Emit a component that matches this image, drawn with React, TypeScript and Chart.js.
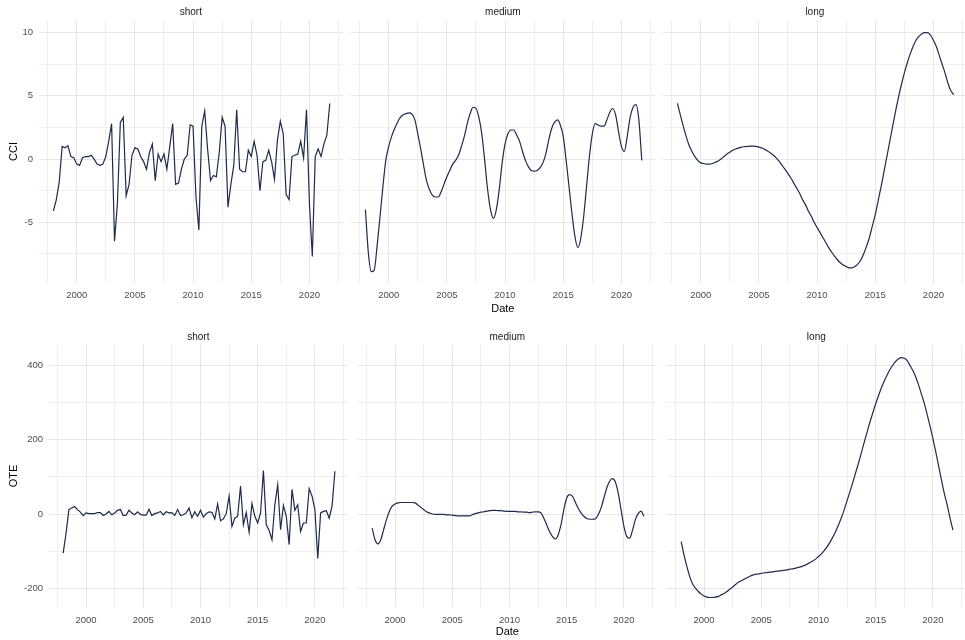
import React, { useEffect, useRef } from 'react';
import { Chart, registerables } from 'chart.js';

Chart.register(...registerables);

// Quarterly time index, 1998 Q1 .. 2021 Q4
const DATES: number[] = Array.from({ length: 96 }, (_, i) => 1998 + i / 4);

const CCI_SHORT = [
  -4.1, -3.2, -1.8, 1.0, 0.9, 1.05, 0.2, 0.1, -0.4, -0.5, 0.1, 0.2,
  0.2, 0.3, 0.0, -0.4, -0.5, -0.4, 0.2, 1.4, 2.8, -6.5, -3.5, 2.9,
  3.3, -2.9, -2.0, 0.3, 0.9, 0.8, 0.2, -0.2, -0.8, 0.5, 1.2, -1.7,
  0.4, -0.2, 0.4, -0.8, 1.0, 2.8, -2.0, -1.9, -0.8, 0.0, 0.3, 2.7,
  2.6, -3.0, -5.6, 2.6, 3.8, 0.8, -1.7, -1.3, -1.4, 0.5, 3.3, 2.6,
  -3.8, -2.0, -0.5, 3.9, -0.8, -1.0, -1.0, 0.7, 0.2, 1.4, 0.3, -2.5,
  -0.2, -0.1, 0.7, -0.2, -1.6, 1.5, 3.0, 2.0, -2.8, -3.2, 0.2, 0.3,
  0.4, 1.4, 0.1, 3.9, -3.5, -7.7, 0.2, 0.8, 0.2, 1.2, 1.9, 4.4,
];

const CCI_MEDIUM = [
  -4.0, -7.4, -8.9, -8.8, -6.9, -4.6, -2.2, -0.1, 1.0, 1.8, 2.4, 2.9,
  3.3, 3.5, 3.6, 3.65, 3.55, 3.1, 2.0, 0.8, -0.5, -1.7, -2.4, -2.85,
  -3.0, -3.0, -2.6, -2.0, -1.4, -0.9, -0.4, -0.1, 0.3, 1.0, 1.8, 2.8,
  3.6, 4.1, 4.0, 3.3, 2.0, -0.1, -2.4, -4.0, -4.7, -4.0, -2.4, -0.3,
  1.2, 2.0, 2.3, 2.3, 1.9, 1.4, 0.6, -0.1, -0.6, -0.9, -0.95, -0.9,
  -0.7, -0.3, 0.4, 1.5, 2.4, 2.9, 3.1, 2.7, 1.8, -0.1, -2.2, -4.3,
  -6.1, -7.0, -6.3, -4.6, -2.2, 0.2, 2.0, 2.8, 2.7, 2.6, 2.6, 3.1,
  3.7, 4.0, 3.5, 2.2, 1.0, 0.6, 1.8, 3.3, 4.1, 4.3, 3.1, -0.1,
];

const CCI_LONG = [
  4.4, 3.5, 2.6, 1.8, 1.1, 0.6, 0.2, -0.1, -0.3, -0.35, -0.4, -0.4,
  -0.35, -0.25, -0.15, 0.0, 0.2, 0.4, 0.55, 0.7, 0.8, 0.87, 0.95, 0.98,
  1.0, 1.02, 1.02, 1.0, 0.95, 0.88, 0.77, 0.64, 0.48, 0.3, 0.08, -0.18,
  -0.5, -0.82, -1.15, -1.5, -1.9, -2.3, -2.7, -3.2, -3.6, -4.1, -4.5, -5.0,
  -5.4, -5.8, -6.2, -6.6, -7.0, -7.35, -7.67, -7.96, -8.2, -8.38, -8.5, -8.6,
  -8.6, -8.5, -8.3, -8.0, -7.5, -6.9, -6.2, -5.3, -4.4, -3.3, -2.2, -1.0,
  0.2, 1.4, 2.6, 3.8, 4.9, 5.9, 6.8, 7.6, 8.3, 8.9, 9.4, 9.7,
  9.9, 10.0, 10.0, 9.8, 9.4, 8.9, 8.2, 7.5, 6.8, 6.0, 5.4, 5.1,
];

const OTE_SHORT = [
  -105, -51, 12, 16, 20, 12, 5, -4, 3, 1, 1, 1,
  4, 4, -4, 0, 7, -2, 3, 10, 12, -4, -3, 10,
  3, -2, 6, -1, -3, -3, 13, -4, 1, 3, 7, -2,
  6, 3, 4, -4, 12, -4, -2, 3, 16, -10, 6, -6,
  10, -8, 1, 6, 5, -13, 27, -18, -13, 1, 48, -33,
  -11, -6, 75, -29, 4, -49, 28, -6, -24, 3, 117, -29,
  -44, -69, 25, 79, -42, 23, -6, -82, 66, 10, 25, -47,
  -24, -24, 68, 48, 12, -119, 3, 7, 9, -11, 21, 115,
];

const OTE_MEDIUM = [
  -38, -69, -80, -69, -42, -15, 7, 21, 27, 30, 31, 31,
  31, 31, 31, 30, 24, 18, 12, 6, 3, 0, -1, -1,
  -1, -1, -2, -2, -3, -4, -5, -5, -5, -5, -5, -2,
  1, 3, 5, 6, 8, 9, 10, 10, 9, 9, 8, 7,
  7, 7, 7, 6, 6, 5, 5, 4, 5, 6, 6, 3,
  -11, -29, -47, -60, -67, -56, -29, 12, 43, 52, 48, 32,
  16, 3, -6, -12, -14, -14, -13, -2, 16, 43, 70, 88,
  95, 86, 57, 12, -33, -60, -65, -44, -15, 1, 8, -6,
];

const OTE_LONG = [
  -74, -110, -141, -168, -188, -199, -208, -215, -220, -223, -224, -224,
  -223, -221, -217, -213, -208, -202, -196, -189, -183, -179, -175, -171,
  -167, -164, -162, -161, -159, -158, -157, -156, -155, -154, -153, -152,
  -151, -150, -148, -147, -145, -143, -141, -138, -135, -130, -126, -121,
  -114, -107, -98, -88, -76, -62, -47, -29, -10, 12, 36, 60,
  85, 111, 137, 165, 193, 220, 247, 272, 296, 318, 339, 357,
  373, 388, 400, 410, 417, 420, 418, 412, 399, 385, 368, 346,
  322, 297, 267, 236, 203, 167, 129, 91, 55, 24, -11, -43,
];

const PANEL_NAMES = ['short', 'medium', 'long'];
const X_TICKS = [1997.5, 2000, 2002.5, 2005, 2007.5, 2010, 2012.5, 2015, 2017.5, 2020, 2022.5];
const X_LABEL_STEP = 5;
const CCI_TICKS = [-7.5, -5, -2.5, 0, 2.5, 5, 7.5, 10];
const CCI_LABEL_STEP = 5;
const OTE_TICKS = [-200, -100, 0, 100, 200, 300, 400];
const OTE_LABEL_STEP = 200;

const X_MIN = 1996.76;
const X_MAX = 2022.86;

const FONT = '"Liberation Sans", Arial, "DejaVu Sans", sans-serif';
const LINE_COLOR = '#1e2b4b';
const GRID_MAJOR = '#e6e6e6';
const GRID_MINOR = '#efefef';

type RowSpec = {
  title: string;
  top: number;
  padTop: number;
  xAxisH: number;
  yAxisW: number;
  yMin: number;
  yMax: number;
  yTicks: number[];
  yLabelStep: number;
  xTickPad: number;
  dateTitlePad: number;
  lefts: number[];
  panelW: number;
  series: number[][];
};

const ROWS: RowSpec[] = [
  {
    title: 'CCI', top: 0, padTop: 20, xAxisH: 37, yAxisW: 39,
    yMin: -9.8, yMax: 11.0, yTicks: CCI_TICKS, yLabelStep: CCI_LABEL_STEP,
    xTickPad: 6.5, dateTitlePad: 4.4, lefts: [0, 351, 663], panelW: 306,
    series: [CCI_SHORT, CCI_MEDIUM, CCI_LONG],
  },
  {
    title: 'OTE', top: 320, padTop: 25, xAxisH: 33, yAxisW: 49,
    yMin: -249.5, yMax: 453.7, yTicks: OTE_TICKS, yLabelStep: OTE_LABEL_STEP,
    xTickPad: 7.5, dateTitlePad: 1.4, lefts: [0, 358, 667], panelW: 302,
    series: [OTE_SHORT, OTE_MEDIUM, OTE_LONG],
  },
];

const stripPlugin = {
  id: 'strip',
  afterDraw(chart: any, _args: any, opts: any) {
    const { ctx, chartArea } = chart;
    ctx.save();
    ctx.font = `10px ${FONT}`;
    ctx.fillStyle = '#1a1a1a';
    ctx.textAlign = 'center';
    ctx.textBaseline = 'middle';
    ctx.fillText(opts.text, (chartArea.left + chartArea.right) / 2, chartArea.top - 8);
    ctx.restore();
  },
};

function isMajor(v: number, step: number) {
  return Math.abs(v % step) < 1e-9;
}

function Panel({ row, idx }: { row: RowSpec; idx: number }) {
  const ref = useRef<HTMLCanvasElement>(null);
  const first = idx === 0;
  const width = (first ? row.yAxisW : 0) + row.panelW;
  const height = 320;

  useEffect(() => {
    const values = row.series[idx];
    const smooth = idx > 0;
    const chart = new Chart(ref.current as HTMLCanvasElement, {
      type: 'line',
      data: {
        datasets: [
          {
            data: DATES.map((x, i) => ({ x, y: values[i] })),
            borderColor: LINE_COLOR,
            borderWidth: 1.2,
            pointRadius: 0,
            fill: false,
            tension: smooth ? 0.4 : 0,
            cubicInterpolationMode: smooth ? 'monotone' : 'default',
          } as any,
        ],
      },
      options: {
        responsive: false,
        animation: false,
        devicePixelRatio: 1,
        layout: { padding: { top: row.padTop, left: 0, right: 0, bottom: 0 } },
        plugins: {
          legend: { display: false },
          tooltip: { enabled: false },
          strip: { text: PANEL_NAMES[idx] },
        } as any,
        scales: {
          x: {
            type: 'linear',
            min: X_MIN,
            max: X_MAX,
            afterBuildTicks: (s: any) => {
              s.ticks = X_TICKS.map((v) => ({ value: v }));
            },
            afterFit: (s: any) => {
              s.height = row.xAxisH;
            },
            border: { display: false },
            grid: {
              drawTicks: false,
              lineWidth: 1,
              color: (c: any) => (c.tick && isMajor(c.tick.value, X_LABEL_STEP) ? GRID_MAJOR : GRID_MINOR),
            },
            ticks: {
              autoSkip: false,
              maxRotation: 0,
              minRotation: 0,
              padding: row.xTickPad,
              color: '#4d4d4d',
              font: { family: FONT, size: 9.5 },
              callback: (v: any) => (isMajor(Number(v), X_LABEL_STEP) ? String(v) : ''),
            },
            title: {
              display: idx === 1,
              text: 'Date',
              color: '#000000',
              font: { family: FONT, size: 11 },
              padding: { top: 0, bottom: row.dateTitlePad },
            },
          },
          y: {
            type: 'linear',
            min: row.yMin,
            max: row.yMax,
            afterBuildTicks: (s: any) => {
              s.ticks = row.yTicks.map((v) => ({ value: v }));
            },
            afterFit: (s: any) => {
              s.width = first ? row.yAxisW : 0;
            },
            border: { display: false },
            grid: {
              drawTicks: false,
              lineWidth: 1,
              color: (c: any) => (c.tick && isMajor(c.tick.value, row.yLabelStep) ? GRID_MAJOR : GRID_MINOR),
            },
            ticks: {
              display: first,
              autoSkip: false,
              padding: 6,
              color: '#4d4d4d',
              font: { family: FONT, size: 9.5 },
              callback: (v: any) => (isMajor(Number(v), row.yLabelStep) ? String(v) : ''),
            },
            title: {
              display: first,
              text: row.title,
              color: '#000000',
              font: { family: FONT, size: 11 },
              padding: { top: 7.5, bottom: 0 },
            },
          },
        },
      } as any,
      plugins: [stripPlugin],
    });
    return () => chart.destroy();
  }, []);

  return (
    <canvas
      ref={ref}
      width={width}
      height={height}
      style={{ position: 'absolute', left: row.lefts[idx], top: row.top, width, height, display: 'block' }}
    />
  );
}

export default function App() {
  return (
    <div
      style={{
        position: 'fixed',
        left: 0,
        top: 0,
        width: 965,
        height: 640,
        overflow: 'hidden',
        background: '#ffffff',
      }}
    >
      {ROWS.map((row, r) =>
        [0, 1, 2].map((i) => <Panel key={`${r}-${i}`} row={row} idx={i} />)
      )}
    </div>
  );
}
